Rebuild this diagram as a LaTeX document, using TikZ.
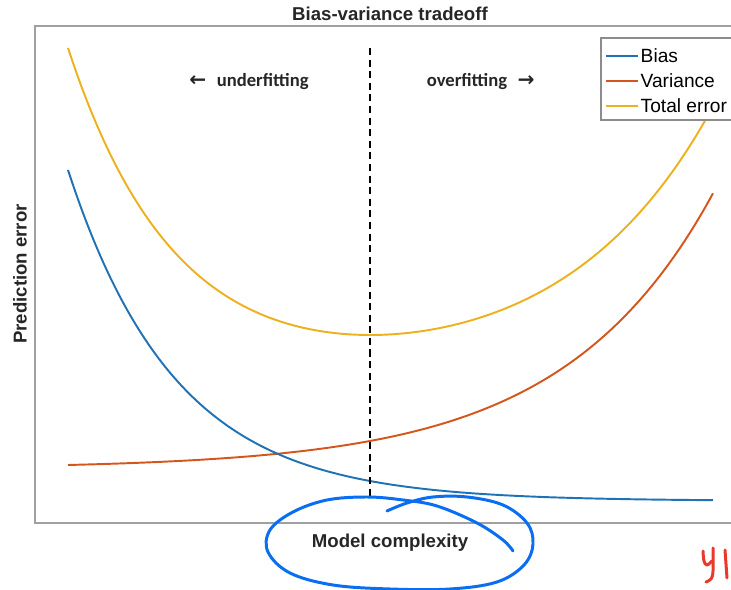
\documentclass[tikz,border=0pt]{standalone}
\usepackage{fontspec}
\setsansfont{Liberation Sans}
\newfontfamily\calibri{Carlito}
\newfontfamily\arrowfont{DejaVu Sans}
\usepackage{xcolor}
\usepackage{tikz}
\definecolor{frame}{HTML}{A0A0A0}
\definecolor{legframe}{HTML}{8C8C8C}
\definecolor{labeltext}{HTML}{262626}
\definecolor{biasblue}{HTML}{1F72B5}
\definecolor{varorange}{HTML}{D4561C}
\definecolor{totgold}{HTML}{EDB120}
\definecolor{penblue}{HTML}{0A6EF2}
\definecolor{penred}{HTML}{E8392B}
\tikzset{
  axbox/.style={line width=1.1pt, draw=frame},
  cbias/.style={line width=1.1pt, draw=biasblue},
  cvar/.style={line width=1.1pt, draw=varorange},
  ctot/.style={line width=1.1pt, draw=totgold},
  divider/.style={line width=1.2pt, draw=black, dash pattern=on 4pt off 2.6pt},
  lbl/.style={text=labeltext, font=\sffamily\bfseries\fontsize{10.6}{12}\selectfont},
  legtext/.style={text=black, font=\sffamily\fontsize{10.9}{12}\selectfont, anchor=west, inner sep=0pt},
  regime/.style={text=labeltext, font=\calibri\bfseries\fontsize{10.6}{12}\selectfont, inner sep=0pt},
  pen/.style={line width=1.7pt, line cap=round, line join=round}
}
\newcommand{\LegendEntry}[4]{% y, style, name, text
  \draw[#2] (606,#1) -- (638,#1) node[legtext, xshift=1pt] (#3) {#4};
}
\newcommand{\RegimeArrow}[1]{{\arrowfont\bfseries\fontsize{11.5}{12}\selectfont #1}}

\begin{document}
\begin{tikzpicture}[x=0.02cm, y=-0.02cm,
  declare function={
    biasy(\t)=501-331*exp(-0.00929*(\t-68));
    vary(\t)=465-3.66*(exp(0.0067*(\t-68))-1);
    toty(\t)=biasy(\t)+vary(\t)-587;
  }]
  \useasboundingbox (0,0) rectangle (731,590);
  \clip (0,0) rectangle (731,590);

  % error curves
  \draw[ctot]  plot[domain=68:713, samples=140, smooth] (\x,{toty(\x)});
  \draw[cvar]  plot[domain=68:713, samples=140, smooth] (\x,{vary(\x)});
  \draw[cbias] plot[domain=68:713, samples=140, smooth] (\x,{biasy(\x)});

  % best complexity
  \coordinate (sweettop) at (370,48);
  \coordinate (sweetbot) at (370,500);
  \draw[divider] (sweettop) -- (sweetbot);

  \node[regime, anchor=west] (under) at (189,82) {\RegimeArrow{←}\hspace{6pt}underfitting};
  \node[regime, anchor=east] (over) at (535,82) {overfitting\hspace{6pt}\RegimeArrow{→}};

  % frame and labels
  \draw[axbox] (760,26) -- (35,26) -- (35,523) -- (760,523);
  \node[lbl] (title) at (390,14) {Bias-variance tradeoff};
  \node[lbl] (xlab) at (390,543) {Model complexity};
  \node[lbl, rotate=90] (ylab) at (20,274) {Prediction error};

  % legend
  \draw[draw=legframe, fill=white, line width=0.6pt] (601,38) rectangle (760,120);
  \LegendEntry{56}{cbias}{lbias}{Bias}
  \LegendEntry{81}{cvar}{lvar}{Variance}
  \LegendEntry{106}{ctot}{ltot}{Total error}

  % pen marks
  \draw[pen, draw=penblue] plot[smooth, tension=0.6] coordinates {
    (387,511) (407,503) (433,497) (467,497) (503,505) (527,523) (533,544)
    (524,565) (497,582) (450,589) (390,589) (333,585) (290,573) (268,552)
    (270,530) (293,512) (327,500) (367,497) (403,500) (437,506) (477,523)
    (503,540) (513,551)};
  \draw[pen, draw=penred] plot[smooth, tension=0.6] coordinates {
    (703,551) (704,561) (707,565) (712,561)};
  \draw[pen, draw=penred] plot[smooth, tension=0.6] coordinates {
    (713,548) (713,571) (711,579) (706,582)};
  \draw[pen, draw=penred] plot[smooth, tension=0.6] coordinates {
    (725,550) (726,564) (727,578)};
\end{tikzpicture}
\end{document}
